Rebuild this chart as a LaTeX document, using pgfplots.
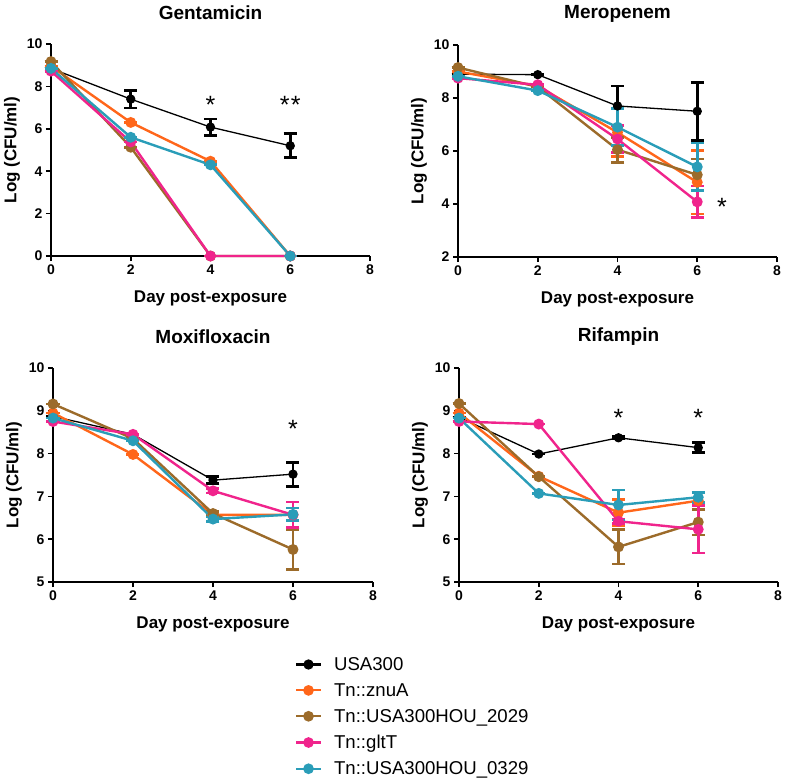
\documentclass[border=0pt]{standalone}
\usepackage{fontspec}
\setmainfont{Liberation Sans}
\usepackage{pgfplots}
\pgfplotsset{compat=1.18}
\definecolor{cOr}{RGB}{255,102,26}
\definecolor{cBr}{RGB}{156,107,42}
\definecolor{cPk}{RGB}{240,36,140}
\definecolor{cCy}{RGB}{42,157,184}
\tikzset{starnode/.style={font=\fontsize{25}{25}\selectfont, inner sep=0pt, anchor=north, yshift=3.5pt}}
\pgfplotsset{
 panel/.style={
  scale only axis, width=319pt, height=212pt,
  axis x line*=bottom, axis y line*=left,
  axis line style={-, line width=1.7pt, black},
  tick align=outside, major tick length=5pt,
  tick style={line width=1.7pt, black},
  xmin=0, xmax=8, xtick={0,2,4,6,8},
  enlargelimits=false, clip=false,
  ticklabel style={font=\fontsize{14}{16}\selectfont\bfseries},
  /pgf/number format/assume math mode=true,
  label style={font=\fontsize{17}{19}\selectfont\bfseries},
  title style={font=\fontsize{19}{21}\selectfont\bfseries, at={(axis description cs:0.5,1.12)}, anchor=center},
  xlabel={Day post-exposure},
  ylabel={Log (CFU/ml)},
  xlabel style={at={(axis description cs:0.5,-0.198)}, anchor=center},
  ylabel style={at={(axis description cs:-0.122,0.5)}, anchor=center},
  error bars/y dir=both, error bars/y explicit,
 },
 eb/.style={error bars/error bar style={line width=2.8pt, solid},
  error bars/error mark options={rotate=90, mark size=6.5pt, line width=2.8pt}},
 sBk/.style={black, line width=1.3pt, mark=*, mark size=4pt, mark options={solid, fill=black}, eb},
 sOr/.style={cOr, line width=2.4pt, mark=*, mark size=4.2pt, mark options={solid, fill=cOr}, eb},
 sBr/.style={cBr, line width=2.4pt, mark=*, mark size=4.2pt, mark options={solid, fill=cBr}, eb},
 sPk/.style={cPk, line width=2.4pt, mark=*, mark size=4.2pt, mark options={solid, fill=cPk}, eb},
 sCy/.style={cCy, line width=2.4pt, mark=*, mark size=4.2pt, mark options={solid, fill=cCy}, eb},
}
\begin{document}
\begin{tikzpicture}
\useasboundingbox (0,0) rectangle (787pt,-782pt);
% Gentamicin
\begin{axis}[panel, at={(51pt,-256pt)}, anchor=south west, title={Gentamicin},
  ymin=0, ymax=10, ytick={0,2,4,6,8,10}]
\addplot[sBk] coordinates {(0,8.85) +- (0,0) (2,7.4) +- (0,0.42) (4,6.08) +- (0,0.38) (6,5.2) +- (0,0.56)};
\addplot[sOr] coordinates {(0,8.95) +- (0,0) (2,6.3) +- (0,0) (4,4.47) +- (0,0) (6,0) +- (0,0)};
\addplot[sBr] coordinates {(0,9.17) +- (0,0) (2,5.13) +- (0,0) (4,0) +- (0,0) (6,0) +- (0,0)};
\addplot[sPk] coordinates {(0,8.72) +- (0,0) (2,5.38) +- (0,0) (4,0) +- (0,0) (6,0) +- (0,0)};
\addplot[sCy] coordinates {(0,8.85) +- (0,0) (2,5.6) +- (0,0) (4,4.3) +- (0,0) (6,0) +- (0,0)};
\node[starnode] at (axis cs:4,7.4) {*};
\node[starnode] at (axis cs:6,7.4) {*\kern1.5pt*};
\end{axis}
% Meropenem
\begin{axis}[panel, at={(458pt,-257pt)}, anchor=south west, title={Meropenem},
  ymin=2, ymax=10, ytick={2,4,6,8,10}]
\addplot[sBk] coordinates {(0,8.9) +- (0,0) (2,8.88) +- (0,0) (4,7.7) +- (0,0.75) (6,7.5) +- (0,1.1)};
\addplot[sOr] coordinates {(0,9.0) +- (0,0) (2,8.45) +- (0,0) (4,6.7) +- (0,0.9) (6,4.82) +- (0,1.2)};
\addplot[sBr] coordinates {(0,9.15) +- (0,0) (2,8.42) +- (0,0) (4,6.05) +- (0,0.47) (6,5.1) +- (0,0.6)};
\addplot[sPk] coordinates {(0,8.75) +- (0,0) (2,8.5) +- (0,0) (4,6.45) +- (0,0.5) (6,4.08) +- (0,0.6)};
\addplot[sCy] coordinates {(0,8.82) +- (0,0) (2,8.28) +- (0,0) (4,6.9) +- (0,0.7) (6,5.4) +- (0,0.9)};
\node[starnode] at (axis cs:6.62,4.1) {*};
\end{axis}
% Moxifloxacin
\begin{axis}[panel, at={(53pt,-582pt)}, anchor=south west, title={Moxifloxacin},
  width=320pt, height=214pt,
  ymin=5, ymax=10, ytick={5,6,7,8,9,10},
  legend style={at={(axis description cs:0.746,-0.332)}, anchor=north west, draw=none, fill=none,
    font=\fontsize{18.6}{20}\selectfont, row sep=7.5pt, column sep=10pt, cells={anchor=west}},
  legend image code/.code={\draw[mark repeat=2,mark phase=2,#1,line width=2.2pt] plot coordinates {(0pt,0pt) (12.5pt,0pt) (25pt,0pt)};}]
\addplot[sBk] coordinates {(0,8.87) +- (0,0) (2,8.45) +- (0,0) (4,7.38) +- (0,0.08) (6,7.52) +- (0,0.28)};
\addplot[sOr] coordinates {(0,8.95) +- (0,0) (2,7.98) +- (0,0) (4,6.57) +- (0,0.05) (6,6.57) +- (0,0.3)};
\addplot[sBr] coordinates {(0,9.16) +- (0,0) (2,8.35) +- (0,0) (4,6.6) +- (0,0.05) (6,5.76) +- (0,0.47)};
\addplot[sPk] coordinates {(0,8.75) +- (0,0) (2,8.45) +- (0,0) (4,7.13) +- (0,0.05) (6,6.57) +- (0,0.3)};
\addplot[sCy] coordinates {(0,8.83) +- (0,0) (2,8.3) +- (0,0) (4,6.47) +- (0,0.05) (6,6.58) +- (0,0.15)};
\legend{USA300, Tn::znuA, Tn::USA300HOU\_2029, Tn::gltT, Tn::USA300HOU\_0329}
\node[starnode] at (axis cs:6,8.71) {*};
\end{axis}
% Rifampin
\begin{axis}[panel, at={(459pt,-582pt)}, anchor=south west, title={Rifampin},
  width=319pt, height=214pt,
  ymin=5, ymax=10, ytick={5,6,7,8,9,10}]
\addplot[sBk] coordinates {(0,8.85) +- (0,0) (2,7.99) +- (0,0) (4,8.37) +- (0,0.03) (6,8.14) +- (0,0.12)};
\addplot[sOr] coordinates {(0,8.95) +- (0,0) (2,7.47) +- (0,0) (4,6.62) +- (0,0.3) (6,6.9) +- (0,0.2)};
\addplot[sBr] coordinates {(0,9.17) +- (0,0) (2,7.46) +- (0,0) (4,5.82) +- (0,0.4) (6,6.4) +- (0,0.3)};
\addplot[sPk] coordinates {(0,8.75) +- (0,0) (2,8.69) +- (0,0) (4,6.42) +- (0,0.05) (6,6.23) +- (0,0.55)};
\addplot[sCy] coordinates {(0,8.83) +- (0,0) (2,7.07) +- (0,0) (4,6.8) +- (0,0.35) (6,6.98) +- (0,0.12)};
\node[starnode] at (axis cs:4,8.95) {*};
\node[starnode] at (axis cs:6,8.95) {*};
\end{axis}
\end{tikzpicture}
\end{document}
